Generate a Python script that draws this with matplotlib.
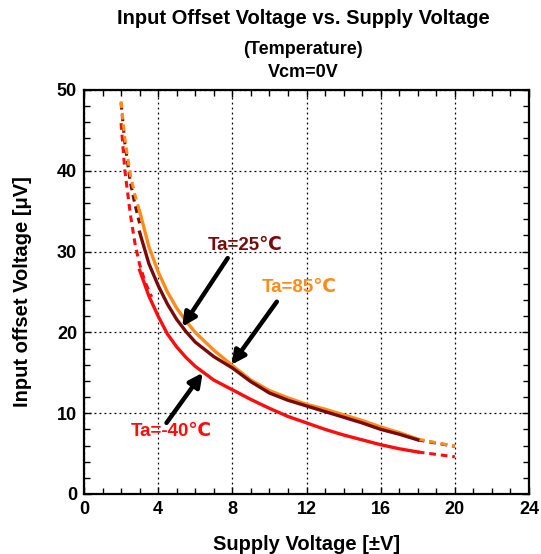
import numpy as np
import matplotlib
matplotlib.use('Agg')
import matplotlib.pyplot as plt
from matplotlib.ticker import MultipleLocator

plt.rcParams['font.family'] = ['Liberation Sans', 'DejaVu Sans']
plt.rcParams['font.weight'] = 'bold'

# 実測部分 (3V - 18V)
vs = [3, 3.5, 4, 4.5, 5, 5.5, 6, 7, 8, 9, 10, 11, 12, 13, 14, 15, 16, 17, 18]
vos_85 = [35.0, 30.6, 27.5, 25.0, 23.0, 21.4, 20.0, 17.8, 15.9, 14.1, 12.8, 11.9, 11.1, 10.5, 9.8, 9.1, 8.3, 7.6, 6.8]
vos_25 = [32.4, 28.5, 25.8, 23.5, 21.6, 20.1, 18.8, 17.0, 15.6, 13.9, 12.5, 11.6, 10.9, 10.2, 9.5, 8.8, 8.0, 7.4, 6.7]
vos_m40 = [27.7, 24.5, 22.0, 19.8, 18.2, 16.9, 15.8, 14.1, 12.9, 11.7, 10.6, 9.6, 8.8, 8.0, 7.3, 6.7, 6.1, 5.6, 5.2]

# 外挿部分 (破線)
vs_lo = [2.0, 2.2, 2.5, 2.75, 3.0, 3.3, 3.65]
ext_85_lo = [48.6, 44.0, 39.5, 37.0, 35.0]
ext_25_lo = [48.4, 43.5, 38.6, 35.8, 33.5]
ext_m40_lo = [45.9, 40.1, 34.6, 31.0, 28.4, 26.2, 24.4]
vs_hi = [18, 20]
ext_85_hi = [6.8, 5.9]
ext_25_hi = [6.7, 5.9]
ext_m40_hi = [5.2, 4.6]

c85 = '#FF8C1A'
c25 = '#7A0A0A'
cm40 = '#FF0D0D'

fig = plt.figure(figsize=(5.41, 5.54), dpi=100)
ax = fig.add_axes([84 / 541, 60 / 554, 445 / 541, 404 / 554])

dash = (0, (2.2, 1.6))
ax.plot(vs_lo, ext_m40_lo, color=cm40, lw=2.2, ls=dash)
ax.plot(vs_lo[:5], ext_25_lo, color=c25, lw=2.2, ls=dash)
ax.plot(vs_lo[:5], ext_85_lo, color=c85, lw=2.2, ls=dash)
ax.plot(vs_hi, ext_m40_hi, color=cm40, lw=2.2, ls=dash)
ax.plot(vs_hi, ext_25_hi, color=c25, lw=2.2, ls=dash)
ax.plot(vs_hi, ext_85_hi, color=c85, lw=2.2, ls=dash)

ax.plot(vs, vos_m40, color=cm40, lw=2.4)
ax.plot(vs, vos_85, color=c85, lw=2.4)
ax.plot(vs, vos_25, color=c25, lw=2.4)

ax.set_xlim(0, 24)
ax.set_ylim(0, 50)
ax.xaxis.set_major_locator(MultipleLocator(4))
ax.xaxis.set_minor_locator(MultipleLocator(1))
ax.yaxis.set_major_locator(MultipleLocator(10))
ax.yaxis.set_minor_locator(MultipleLocator(2))
ax.tick_params(which='both', direction='in', top=True, right=True, width=1, labelsize=13)
ax.tick_params(which='major', length=5, pad=5)
ax.tick_params(which='minor', length=4)
for lab in ax.get_xticklabels() + ax.get_yticklabels():
    lab.set_fontweight('bold')
ax.grid(True, which='major', color='black', ls=(0, (1.5, 2.5)), lw=0.9)
for s in ax.spines.values():
    s.set_linewidth(1.6)

ax.set_xlabel('Supply Voltage [±V]', fontsize=14.5, fontweight='bold', labelpad=12)
ax.set_ylabel('Input offset Voltage [μV]', fontsize=14.5, fontweight='bold', labelpad=18)

fig.text(0.56, 0.967, 'Input Offset Voltage vs. Supply Voltage', ha='center', va='center',
         fontsize=14.5, fontweight='bold')
fig.text(0.56, 0.911, '(Temperature)', ha='center', va='center', fontsize=13, fontweight='bold')
fig.text(0.56, 0.870, 'Vcm=0V', ha='center', va='center', fontsize=13, fontweight='bold')

arrow = dict(arrowstyle='-|>,head_length=0.8,head_width=0.4', color='black', lw=3.2, shrinkA=0, shrinkB=0)
ax.annotate('', xy=(5.3, 20.7), xytext=(7.75, 29.2), arrowprops=arrow)
ax.annotate('', xy=(7.95, 16.0), xytext=(10.4, 23.8), arrowprops=arrow)
ax.annotate('', xy=(6.4, 15.0), xytext=(4.45, 8.8), arrowprops=arrow)

ax.text(8.7, 30.8, 'Ta=25℃', color=c25, fontsize=13.5, fontweight='bold', ha='center', va='center')
ax.text(11.6, 25.5, 'Ta=85℃', color=c85, fontsize=13.5, fontweight='bold', ha='center', va='center')
ax.text(4.7, 7.7, 'Ta=-40℃', color=cm40, fontsize=13.5, fontweight='bold', ha='center', va='center')

fig.savefig('out.png', dpi=100)
